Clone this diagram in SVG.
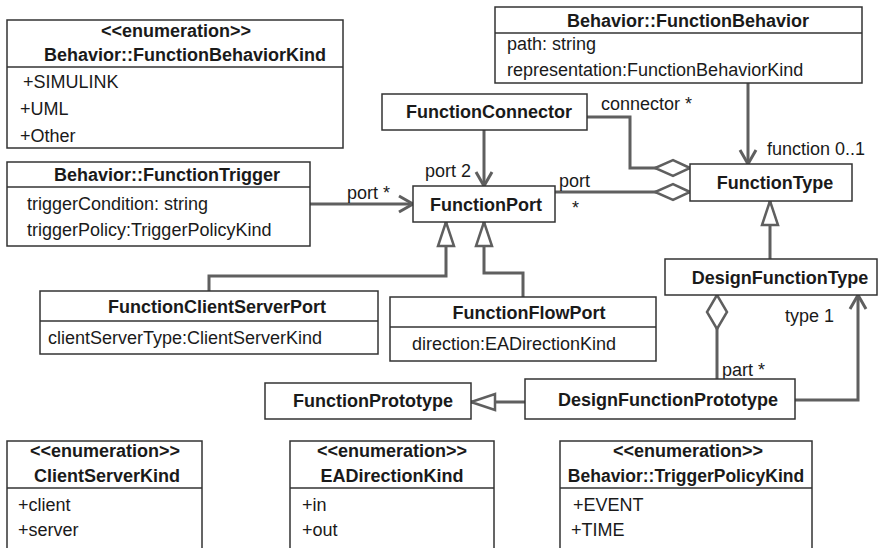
<svg xmlns="http://www.w3.org/2000/svg" width="878" height="548" viewBox="0 0 878 548">
<style>
.box{fill:#fff;stroke:#333;stroke-width:1.5}
.div{stroke:#333;stroke-width:1.5}
.t{font-family:"Liberation Sans",Arial,Helvetica,sans-serif;font-size:18px;fill:#1a1a1a}
.b{font-weight:bold;text-anchor:middle}
.c{fill:none;stroke:#5f5f5f;stroke-width:3}
</style>
<defs>
<marker id="open" markerUnits="userSpaceOnUse" markerWidth="30" markerHeight="30" refX="0" refY="0" orient="auto" overflow="visible"><path d="M-14,-8 L0,0 L-14,8" fill="none" stroke="#5f5f5f" stroke-width="3"/></marker>
<marker id="gen" markerUnits="userSpaceOnUse" markerWidth="30" markerHeight="30" refX="0" refY="0" orient="auto" overflow="visible"><path d="M0,0 L-24,-8 L-24,8 Z" fill="#fff" stroke="#5f5f5f" stroke-width="2.5"/></marker>
<marker id="dia" markerUnits="userSpaceOnUse" markerWidth="40" markerHeight="30" refX="0" refY="0" orient="auto" overflow="visible"><path d="M0,0 L-17,-8 L-35,0 L-17,8 Z" fill="#fff" stroke="#5f5f5f" stroke-width="2.5"/></marker>
<marker id="dia2" markerUnits="userSpaceOnUse" markerWidth="40" markerHeight="30" refX="0" refY="0" orient="auto" overflow="visible"><path d="M0,0 L-17,-10 L-34,0 L-17,10 Z" fill="#fff" stroke="#5f5f5f" stroke-width="2.5"/></marker>
</defs>

<g id="connectors">
<path class="c" d="M748,83 V164" marker-end="url(#open)"/>
<path class="c" d="M484,130 V186" marker-end="url(#open)"/>
<path class="c" d="M310,204 H413" marker-end="url(#open)"/>
<path class="c" d="M587,117 H630 V168 H690" marker-end="url(#dia)"/>
<path class="c" d="M554,192 H690" marker-end="url(#dia)"/>
<path class="c" d="M770,259 V201" marker-end="url(#gen)"/>
<path class="c" d="M523,297 V273 H484 V222" marker-end="url(#gen)"/>
<path class="c" d="M209,291 V276 H446 V222" marker-end="url(#gen)"/>
<path class="c" d="M717,379 V295" marker-end="url(#dia2)"/>
<path class="c" d="M795,400 H858 V295" marker-end="url(#open)"/>
<path class="c" d="M525,402 H471" marker-end="url(#gen)"/>
<g class="t">
<text x="347" y="199">port *</text>
<text x="425" y="177">port 2</text>
<text x="559" y="187">port</text>
<text x="572" y="214">*</text>
<text x="601" y="110">connector *</text>
<text x="767" y="155">function 0..1</text>
<text x="785" y="322">type 1</text>
<text x="722" y="376">part *</text>
</g>
</g>

<g id="FunctionBehaviorKind">
<rect class="box" x="7" y="20" width="336" height="128"/>
<line class="div" x1="7" y1="67" x2="343" y2="67"/>
<text class="t b" x="176" y="37">&lt;&lt;enumeration&gt;&gt;</text>
<text class="t b" x="185" y="61">Behavior::FunctionBehaviorKind</text>
<text class="t" x="23" y="88">+SIMULINK</text>
<text class="t" x="20" y="115">+UML</text>
<text class="t" x="20" y="142">+Other</text>
</g>

<g id="FunctionBehavior">
<rect class="box" x="495" y="7" width="367" height="76"/>
<line class="div" x1="495" y1="33" x2="862" y2="33"/>
<text class="t b" x="688" y="27">Behavior::FunctionBehavior</text>
<text class="t" x="507" y="50">path: string</text>
<text class="t" x="507" y="76">representation:FunctionBehaviorKind</text>
</g>

<g id="FunctionConnector">
<rect class="box" x="382" y="94" width="205" height="36"/>
<text class="t b" x="489" y="118">FunctionConnector</text>
</g>

<g id="FunctionTrigger">
<rect class="box" x="7" y="162" width="303" height="84"/>
<line class="div" x1="7" y1="187" x2="310" y2="187"/>
<text class="t b" x="167" y="181">Behavior::FunctionTrigger</text>
<text class="t" x="27" y="210">triggerCondition: string</text>
<text class="t" x="27" y="236">triggerPolicy:TriggerPolicyKind</text>
</g>

<g id="FunctionPort">
<rect class="box" x="413" y="186" width="142" height="36"/>
<text class="t b" x="486" y="211">FunctionPort</text>
</g>

<g id="FunctionType">
<rect class="box" x="690" y="164" width="162" height="37"/>
<text class="t b" x="775" y="189">FunctionType</text>
</g>

<g id="DesignFunctionType">
<rect class="box" x="665" y="259" width="212" height="36"/>
<text class="t b" x="780" y="284">DesignFunctionType</text>
</g>

<g id="FunctionClientServerPort">
<rect class="box" x="40" y="291" width="338" height="63"/>
<line class="div" x1="40" y1="321" x2="378" y2="321"/>
<text class="t b" x="217" y="313">FunctionClientServerPort</text>
<text class="t" x="48" y="344">clientServerType:ClientServerKind</text>
</g>

<g id="FunctionFlowPort">
<rect class="box" x="390" y="297" width="266" height="64"/>
<line class="div" x1="390" y1="327" x2="656" y2="327"/>
<text class="t b" x="529" y="319">FunctionFlowPort</text>
<text class="t" x="412" y="350">direction:EADirectionKind</text>
</g>

<g id="FunctionPrototype">
<rect class="box" x="265" y="383" width="206" height="36"/>
<text class="t b" x="373" y="407">FunctionPrototype</text>
</g>

<g id="DesignFunctionPrototype">
<rect class="box" x="525" y="379" width="270" height="40"/>
<text class="t b" x="668" y="406">DesignFunctionPrototype</text>
</g>

<g id="ClientServerKind">
<rect class="box" x="7" y="441" width="195" height="130"/>
<line class="div" x1="7" y1="488" x2="202" y2="488"/>
<text class="t b" x="105" y="457">&lt;&lt;enumeration&gt;&gt;</text>
<text class="t b" x="107" y="482">ClientServerKind</text>
<text class="t" x="18" y="511">+client</text>
<text class="t" x="18" y="536">+server</text>
</g>

<g id="EADirectionKind">
<rect class="box" x="290" y="441" width="204" height="130"/>
<line class="div" x1="290" y1="488" x2="494" y2="488"/>
<text class="t b" x="392" y="457">&lt;&lt;enumeration&gt;&gt;</text>
<text class="t b" x="392" y="482">EADirectionKind</text>
<text class="t" x="302" y="511">+in</text>
<text class="t" x="302" y="536">+out</text>
</g>

<g id="TriggerPolicyKind">
<rect class="box" x="560" y="441" width="252" height="130"/>
<line class="div" x1="560" y1="488" x2="812" y2="488"/>
<text class="t b" x="688" y="457">&lt;&lt;enumeration&gt;&gt;</text>
<text class="t b" x="686" y="482" style="font-size:17.5px">Behavior::TriggerPolicyKind</text>
<text class="t" x="573" y="511">+EVENT</text>
<text class="t" x="571" y="536">+TIME</text>
</g>
</svg>
